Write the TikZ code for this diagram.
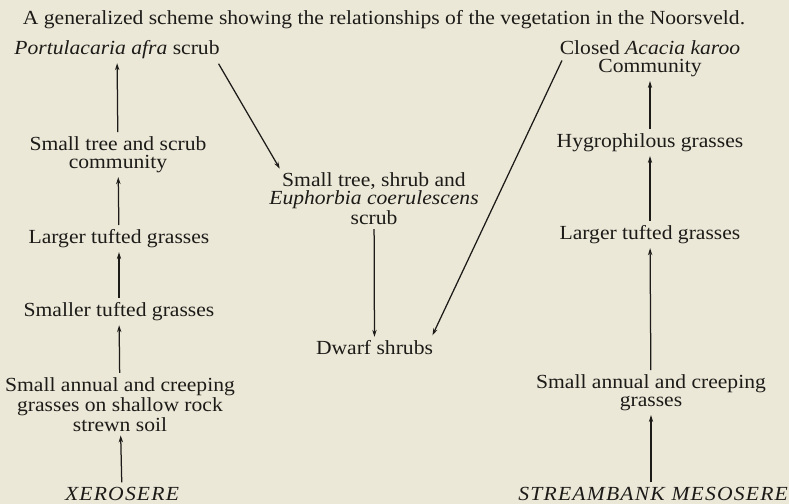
\documentclass[tikz,border=0pt]{standalone}
\usepackage{fontspec}
\setmainfont{Liberation Serif}[FakeStretch=1.08]
\usepackage{tikz}
\usetikzlibrary{arrows.meta,positioning}
\definecolor{ink}{HTML}{1C1B18}
\definecolor{paper}{HTML}{ECE8D8}
\tikzset{
  >={Stealth[length=4.2pt,width=2.6pt]},
  every picture/.style={line width=0.75pt,draw=ink},
  stage/.style={align=center,inner sep=1.5pt,text=ink,font=\fontsize{12}{10.8}\selectfont},
  sere/.style={stage,font=\fontsize{12}{10.8}\selectfont\itshape\addfontfeature{LetterSpace=6}},
  arr/.style={->,draw=ink,shorten <=1pt,shorten >=0.5pt},
}

\begin{document}
\begin{tikzpicture}[x=0.6pt,y=0.6pt]
  \fill[paper] (0,0) rectangle (789,504);
  \useasboundingbox (0,0) rectangle (789,504);
  \node[stage] (title) at (384,484) {A generalized scheme showing the relationships of the vegetation in the Noorsveld.};
  % xerosere
  \node[stage] (port) at (117,454) {\textit{Portulacaria afra} scrub};
  \node[stage] (xtree) at (118,349) {Small tree and scrub\\community};
  \node[stage] (xlarge) at (119,265) {Larger tufted grasses};
  \node[stage] (xsmall) at (119,192) {Smaller tufted grasses};
  \node[stage] (xann) at (120,99.5) {Small annual and creeping\\grasses on shallow rock\\strewn soil};
  \node[sere] (xero) at (122,10) {XEROSERE};
  % middle
  \node[stage] (mid) at (374,305.5) {Small tree, shrub and\\\textit{Euphorbia coerulescens}\\scrub};
  \node[stage] (dwarf) at (374.5,156) {Dwarf shrubs};
  % streambank mesosere
  \node[stage] (acacia) at (650,445) {Closed \textit{Acacia karoo}\\Community};
  \node[stage] (hygro) at (650,361) {Hygrophilous grasses};
  \node[stage] (slarge) at (650,269) {Larger tufted grasses};
  \node[stage] (sann) at (651,111) {Small annual and creeping\\grasses};
  \node[sere,anchor=east] (meso) at (791,10) {STREAMBANK\hspace{4pt}MESOSERE};

  \draw[arr] (xero) -- (xann);
  \draw[arr] (xann) -- (xsmall);
  \draw[arr] (xsmall) -- (xlarge);
  \draw[arr] (xlarge) -- (xtree);
  \draw[arr] (xtree) -- (port);
  \draw[arr] ([xshift=-3pt]port.south east) -- ([xshift=8.4pt]mid.north west);
  \draw[arr] (mid) -- (dwarf);
  \draw[arr] ([xshift=3.6pt]acacia.west) -- ([xshift=-2.4pt,yshift=1pt]dwarf.north east);
  \draw[arr] (meso.north -| sann) -- (sann);
  \draw[arr] (sann) -- (slarge);
  \draw[arr] (slarge) -- (hygro);
  \draw[arr] (hygro) -- (acacia);
\end{tikzpicture}
\end{document}
